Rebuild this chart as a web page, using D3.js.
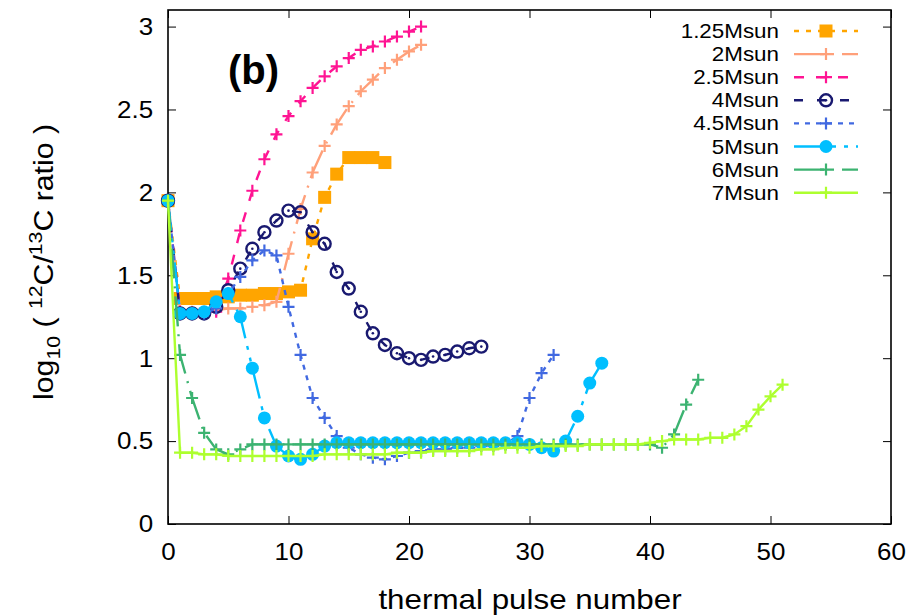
<!DOCTYPE html>
<html>
<head>
<meta charset="utf-8">
<script src="https://cdn.jsdelivr.net/npm/d3@7"></script>
<style>
  body { margin: 0; background: #fff; }
  text { font-family: "Liberation Sans", Arial, sans-serif; }
</style>
</head>
<body>
<div id="chart"></div>
<script>
// series values, thermal pulse number starts at 0 for all of them
const m125 = [1.95, 1.36, 1.36, 1.36, 1.37, 1.37, 1.38, 1.38, 1.39, 1.39, 1.40, 1.41, 1.72, 1.97, 2.11, 2.21, 2.21, 2.21, 2.18];
const m2 = [1.95, 1.29, 1.28, 1.28, 1.29, 1.30, 1.30, 1.31, 1.32, 1.34, 1.63, 1.90, 2.12, 2.28, 2.41, 2.52, 2.61, 2.68, 2.75, 2.80, 2.85, 2.89];
const m25 = [1.95, 1.28, 1.27, 1.27, 1.28, 1.48, 1.77, 2.01, 2.20, 2.35, 2.46, 2.55, 2.63, 2.70, 2.76, 2.81, 2.86, 2.88, 2.91, 2.94, 2.97, 3.00];
const m4 = [1.95, 1.27, 1.27, 1.27, 1.31, 1.41, 1.54, 1.66, 1.76, 1.83, 1.89, 1.88, 1.76, 1.69, 1.52, 1.42, 1.28, 1.15, 1.08, 1.03, 1.00, 0.99, 1.01, 1.02, 1.04, 1.06, 1.07];
const m45 = [1.95, 1.27, 1.27, 1.27, 1.30, 1.39, 1.49, 1.59, 1.65, 1.62, 1.31, 1.02, 0.76, 0.64, 0.53, 0.46, 0.42, 0.40, 0.39, 0.41, 0.43, 0.44, 0.45, 0.45, 0.46, 0.46, 0.47, 0.47, 0.48, 0.53, 0.76, 0.91, 1.02];
const m5 = [1.95, 1.27, 1.27, 1.28, 1.34, 1.39, 1.25, 0.94, 0.64, 0.47, 0.41, 0.39, 0.42, 0.47, 0.49, 0.49, 0.49, 0.49, 0.49, 0.49, 0.49, 0.49, 0.49, 0.49, 0.49, 0.49, 0.49, 0.49, 0.49, 0.49, 0.48, 0.46, 0.44, 0.50, 0.65, 0.85, 0.97];
const m6 = [1.95, 1.02, 0.76, 0.55, 0.45, 0.42, 0.45, 0.48, 0.48, 0.48, 0.48, 0.48, 0.48, 0.48, 0.48, 0.48, 0.48, 0.48, 0.48, 0.48, 0.48, 0.48, 0.48, 0.48, 0.48, 0.48, 0.48, 0.48, 0.48, 0.48, 0.48, 0.48, 0.48, 0.48, 0.48, 0.48, 0.48, 0.48, 0.48, 0.48, 0.48, 0.46, 0.54, 0.72, 0.87];
const m7 = [1.95, 0.43, 0.43, 0.42, 0.42, 0.41, 0.41, 0.41, 0.41, 0.41, 0.41, 0.41, 0.41, 0.42, 0.42, 0.42, 0.42, 0.42, 0.42, 0.43, 0.43, 0.43, 0.44, 0.44, 0.44, 0.44, 0.45, 0.45, 0.46, 0.46, 0.46, 0.47, 0.47, 0.47, 0.47, 0.48, 0.48, 0.48, 0.48, 0.48, 0.49, 0.50, 0.51, 0.51, 0.51, 0.52, 0.52, 0.54, 0.59, 0.69, 0.77, 0.84];

const names = ["1.25Msun", "2Msun", "2.5Msun", "4Msun", "4.5Msun", "5Msun", "6Msun", "7Msun"];
const values = [m125, m2, m25, m4, m45, m5, m6, m7];
const colors = ["#ffa500", "#ffa07a", "#ff1493", "#191970", "#4169e1", "#00bfff", "#3cb371", "#adff2f"];
const dashes = ["5,7", "30,8,2,8", "10,12", "9,14", "5,6", "30,8,4,8,4,8", "30,8,2,8", null];
const symbols = ["square", "plus", "plus", "circle", "plus", "dot", "plus", "plus"];

const xTicks = [0, 10, 20, 30, 40, 50, 60];
const yTicks = [0, 0.5, 1, 1.5, 2, 2.5, 3];

const width = 924, height = 616;
const margin = {top: 10, right: 33, bottom: 92, left: 168};
const stretch = "scale(1.12,1)";

const svg = d3.select("#chart")
    .append("svg")
    .attr("width", width)
    .attr("height", height);

const xScale = d3.scaleLinear()
    .domain([0, 60])
    .range([margin.left, width - margin.right]);

const yScale = d3.scaleLinear()
    .domain([0, 3.1])
    .range([height - margin.bottom, margin.top]);

// axes, ticks point inward and are mirrored on top / right
const bottomAxis = svg.append("g")
    .attr("transform", `translate(0,${height - margin.bottom})`)
    .call(d3.axisBottom(xScale).tickValues(xTicks).tickSize(-8).tickSizeOuter(0).tickPadding(19).tickFormat(d => d));

const leftAxis = svg.append("g")
    .attr("transform", `translate(${margin.left},0)`)
    .call(d3.axisLeft(yScale).tickValues(yTicks).tickSize(-8).tickSizeOuter(0).tickPadding(14).tickFormat(d => d));

svg.append("g")
    .attr("transform", `translate(0,${margin.top})`)
    .call(d3.axisTop(xScale).tickValues(xTicks).tickSize(-8).tickSizeOuter(0).tickFormat(""));

svg.append("g")
    .attr("transform", `translate(${width - margin.right},0)`)
    .call(d3.axisRight(yScale).tickValues(yTicks).tickSize(-8).tickSizeOuter(0).tickFormat(""));

svg.selectAll(".domain").remove();
svg.selectAll(".tick line").attr("stroke", "#000").attr("stroke-width", 1);

svg.selectAll(".tick text")
    .attr("font-size", 24.5)
    .attr("fill", "#000")
    .attr("font-family", "Liberation Sans, Arial, sans-serif")
    .attr("transform", "scale(1.06,1)");
bottomAxis.selectAll(".tick text").attr("dy", "0.71em");

// frame
svg.append("rect")
    .attr("x", margin.left)
    .attr("y", margin.top)
    .attr("width", width - margin.left - margin.right)
    .attr("height", height - margin.top - margin.bottom)
    .attr("fill", "none")
    .attr("stroke", "#000")
    .attr("stroke-width", 1.6);

// series
const plot = svg.append("g");
const line = d3.line()
    .x((d, i) => xScale(i))
    .y(d => yScale(d));

function drawSymbol(g, kind, color, x, y) {
    if (kind === "plus") {
        g.append("path")
            .attr("d", `M${x - 6},${y}H${x + 6}M${x},${y - 6}V${y + 6}`)
            .attr("stroke", color)
            .attr("stroke-width", 2.2)
            .attr("fill", "none");
    } else if (kind === "square") {
        g.append("rect")
            .attr("x", x - 6.5).attr("y", y - 6.5)
            .attr("width", 13).attr("height", 13)
            .attr("fill", color);
    } else if (kind === "dot") {
        g.append("circle")
            .attr("cx", x).attr("cy", y).attr("r", 6.5)
            .attr("fill", color);
    } else if (kind === "circle") {
        g.append("circle")
            .attr("cx", x).attr("cy", y).attr("r", 6)
            .attr("fill", "none")
            .attr("stroke", color)
            .attr("stroke-width", 2.4);
        g.append("circle")
            .attr("cx", x).attr("cy", y).attr("r", 1.3)
            .attr("fill", color);
    }
}

values.forEach((vals, k) => {
    const g = plot.append("g");
    g.append("path")
        .datum(vals)
        .attr("d", line)
        .attr("fill", "none")
        .attr("stroke", colors[k])
        .attr("stroke-width", 2.4)
        .attr("stroke-dasharray", dashes[k]);
    vals.forEach((v, i) => drawSymbol(g, symbols[k], colors[k], xScale(i), yScale(v)));
});

// legend
const legend = svg.append("g");
names.forEach((name, k) => {
    const y = 31 + k * 23.1;
    legend.append("text")
        .attr("transform", `translate(779,${y}) ${stretch}`)
        .attr("dy", "0.35em")
        .attr("text-anchor", "end")
        .attr("font-size", 20)
        .text(name);
    legend.append("line")
        .attr("x1", 794).attr("x2", 858)
        .attr("y1", y).attr("y2", y)
        .attr("stroke", colors[k])
        .attr("stroke-width", 2.4)
        .attr("stroke-dasharray", dashes[k]);
    drawSymbol(legend, symbols[k], colors[k], 826, y);
});

// panel label
svg.append("text")
    .attr("x", 228)
    .attr("y", 84)
    .attr("font-size", 40)
    .attr("font-weight", "bold")
    .text("(b)");

// x-axis label
svg.append("text")
    .attr("transform", `translate(530,609) ${stretch}`)
    .attr("text-anchor", "middle")
    .attr("font-size", 28)
    .text("thermal pulse number");

// y-axis label with sub/superscripts
const ylab = svg.append("text")
    .attr("transform", `translate(53,262) rotate(-90) ${stretch}`)
    .attr("text-anchor", "middle")
    .attr("font-size", 27);
ylab.append("tspan").text("log");
ylab.append("tspan").attr("font-size", 19).attr("dy", 7).text("10");
ylab.append("tspan").attr("dy", -7).text(" ( ");
ylab.append("tspan").attr("font-size", 19).attr("dy", -11).text("12");
ylab.append("tspan").attr("dy", 11).text("C/");
ylab.append("tspan").attr("font-size", 19).attr("dy", -11).text("13");
ylab.append("tspan").attr("dy", 11).text("C ratio )");
</script>
</body>
</html>
